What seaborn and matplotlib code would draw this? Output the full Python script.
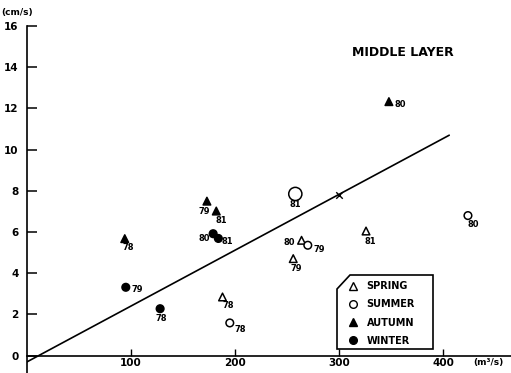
import matplotlib
matplotlib.use("Agg")
import matplotlib.pyplot as plt
import seaborn as sns
import pandas as pd
from matplotlib.patches import Polygon
from matplotlib.lines import Line2D

# ---- data ----
spring_x = [188, 256, 264, 326]
spring_y = [2.85, 4.71, 5.60, 6.05]
spring_lbl = ["78", "79", "80", "81"]

summer_x = [195, 270, 424, 258]
summer_y = [1.59, 5.36, 6.80, 7.85]
summer_lbl = ["78", "79", "80", "81"]

autumn_x = [94, 173, 348, 182]
autumn_y = [5.68, 7.50, 12.33, 7.02]
autumn_lbl = ["78", "79", "80", "81"]

winter_x = [128, 95, 179, 184]
winter_y = [2.28, 3.32, 5.92, 5.69]
winter_lbl = ["78", "79", "80", "81"]

line_x = [0, 406]
line_y = [-0.3, 10.7]
cross_x = [300]
cross_y = [7.8]

yticks = [0, 2, 4, 6, 8, 10, 12, 14, 16]
xticks = [100, 200, 300, 400]

seasons = ["SPRING", "SUMMER", "AUTUMN", "WINTER"]

frames = []
for s, xs, ys, ls in [("SPRING", spring_x, spring_y, spring_lbl),
                      ("SUMMER", summer_x, summer_y, summer_lbl),
                      ("AUTUMN", autumn_x, autumn_y, autumn_lbl),
                      ("WINTER", winter_x, winter_y, winter_lbl)]:
    frames.append(pd.DataFrame({"season": s, "x": xs, "y": ys, "year": ls}))
df = pd.concat(frames, ignore_index=True)

# ---- style ----
sns.set_theme(style="white")
plt.rcParams["font.family"] = ["DejaVu Sans"]
plt.rcParams["font.weight"] = "bold"
plt.rcParams["text.color"] = "black"
plt.rcParams["xtick.color"] = "black"
plt.rcParams["ytick.color"] = "black"
plt.rcParams["axes.labelcolor"] = "black"

W, H = 511, 373
fig = plt.figure(figsize=(W / 100, H / 100), dpi=100)
ax = fig.add_axes([27 / W, 0.0, 1 - 27 / W, 1 - 26 / H])
ax.set_xlim(0, 465.4)
ax.set_ylim(-0.84, 16)

mstyle = {
    "SPRING": dict(marker="^", facecolor="white", edgecolor="black"),
    "SUMMER": dict(marker="o", facecolor="white", edgecolor="black"),
    "AUTUMN": dict(marker="^", facecolor="black", edgecolor="black"),
    "WINTER": dict(marker="o", facecolor="black", edgecolor="black"),
}
big = {("SUMMER", "81")}

for s in seasons:
    d = df[df.season == s]
    sizes = [90 if (s, yr) in big else 30 for yr in d.year]
    st = mstyle[s]
    sns.scatterplot(data=d, x="x", y="y", ax=ax, marker=st["marker"],
                    s=sizes, facecolor=st["facecolor"], edgecolor=st["edgecolor"],
                    linewidth=1.1, legend=False, zorder=3)

# label offsets in pixels (dx right, dy down)
offs = {
    ("SPRING", "78"): (6, 9), ("SPRING", "79"): (3, 10), ("SPRING", "80"): (-12, 2), ("SPRING", "81"): (4, 10),
    ("SUMMER", "78"): (10, 7), ("SUMMER", "79"): (11, 4), ("SUMMER", "80"): (5, 9), ("SUMMER", "81"): (0, 11),
    ("AUTUMN", "78"): (3, 9), ("AUTUMN", "79"): (-3, 10), ("AUTUMN", "80"): (11, 3), ("AUTUMN", "81"): (5, 9),
    ("WINTER", "78"): (1, 10), ("WINTER", "79"): (11, 2), ("WINTER", "80"): (-9, 5), ("WINTER", "81"): (9, 3),
}
for _, r in df.iterrows():
    dx, dy = offs[(r.season, r.year)]
    ax.annotate(r.year, (r.x, r.y), xytext=(dx, -dy), textcoords="offset pixels",
                ha="center", va="center", fontsize=6, fontweight="bold", color="black")

sns.lineplot(x=line_x, y=line_y, ax=ax, color="black", linewidth=1.2, zorder=2)
ax.scatter(cross_x, cross_y, marker="x", s=22, color="black", linewidth=1.0, zorder=3)

# axes
for sp in ["top", "right"]:
    ax.spines[sp].set_visible(False)
ax.spines["bottom"].set_position(("data", 0))
for sp in ["left", "bottom"]:
    ax.spines[sp].set_color("black")
    ax.spines[sp].set_linewidth(1.2)
ax.set_yticks(yticks)
ax.set_yticklabels([str(t) for t in yticks])
ax.set_xticks(xticks)
ax.set_xticklabels([str(t) for t in xticks])
ax.tick_params(axis="y", direction="in", length=7, width=1.1, pad=6, labelsize=7.5,
               colors="black", labelcolor="black")
ax.tick_params(axis="x", direction="in", length=5, width=1.0, pad=2, labelsize=7.5,
               colors="black", labelcolor="black")
ax.tick_params(left=True, bottom=True)
ax.set_xlabel("")
ax.set_ylabel("")
ax.grid(False)

fig.text(17 / W, 1 - 12 / H, "(cm/s)", ha="center", va="center", fontsize=6.5, fontweight="bold", color="black")
fig.text(488 / W, 1 - 363 / H, "(m³/s)", ha="center", va="center", fontsize=6.5, fontweight="bold", color="black")
fig.text(403 / W, 1 - 52 / H, "MIDDLE LAYER", ha="center", va="center", fontsize=9, fontweight="bold", color="black")

# legend box with chamfered corner
pts = [(337, 289), (350, 275), (433, 275), (433, 349), (337, 349)]
poly = Polygon([(px / W, 1 - py / H) for px, py in pts], closed=True, transform=fig.transFigure,
               facecolor="white", edgecolor="black", linewidth=1.2, zorder=4)
fig.patches.append(poly)

handles = [Line2D([], [], linestyle="none", marker=mstyle[s]["marker"], markersize=5.5,
                  markerfacecolor=mstyle[s]["facecolor"], markeredgecolor="black",
                  markeredgewidth=1.0, label=s) for s in seasons]
leg = fig.legend(handles=handles, loc="upper left", bbox_to_anchor=(348 / W, 1 - 281 / H),
                 frameon=False, handlelength=1.0, handletextpad=0.9, labelspacing=0.85,
                 borderpad=0, borderaxespad=0, prop={"size": 7, "weight": "bold"})
for t in leg.get_texts():
    t.set_color("black")
leg.set_zorder(5)

fig.savefig("out.png", dpi=100)
